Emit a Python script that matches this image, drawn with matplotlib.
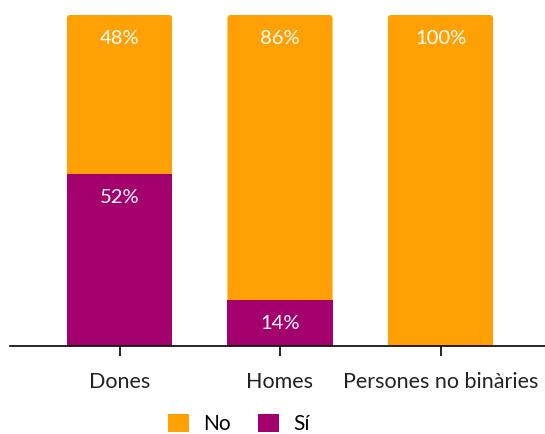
import matplotlib
matplotlib.use("Agg")
import matplotlib.pyplot as plt
from matplotlib.patches import FancyBboxPatch, Patch

plt.rcParams['font.family'] = ['Lato', 'DejaVu Sans']

categories = ["Dones", "Homes", "Persones no binàries"]
si_values = [52, 14, 0]
no_values = [48, 86, 100]
si_labels = ["52%", "14%", ""]
no_labels = ["48%", "86%", "100%"]

color_no = "#FFA005"
color_si = "#A3006E"

W, H, DPI = 545, 434, 100
fig = plt.figure(figsize=(W / DPI, H / DPI), dpi=DPI)
ax = fig.add_axes([10 / W, 1 - 346 / H, 535 / W, 331 / H])

x = list(range(len(categories)))
bar_w = 0.655

# top (No) segments with slightly rounded upper corners
px_x = 160.5  # pixels per x unit
px_y = 3.31   # pixels per y unit
rad = 3 / px_x
for xi, s, n in zip(x, si_values, no_values):
    if n <= 0:
        continue
    box = FancyBboxPatch((xi - bar_w / 2 + rad, s - 5), bar_w - 2 * rad, n + 5 - rad * (px_x / px_y),
                         boxstyle=f"round,pad={rad}", mutation_aspect=px_x / px_y,
                         facecolor=color_no, edgecolor="none", zorder=2)
    ax.add_patch(box)

si_bars = ax.bar(x, si_values, width=bar_w, color=color_si, zorder=3, linewidth=0)

for xi, s, n, sl, nl in zip(x, si_values, no_values, si_labels, no_labels):
    if nl:
        ax.annotate(nl, (xi, s + n), xytext=(0, -24), textcoords="offset pixels",
                    ha="center", va="center", color="white", fontsize=14.5, zorder=5)
    if sl:
        ax.annotate(sl, (xi, s), xytext=(0, -24), textcoords="offset pixels",
                    ha="center", va="center", color="white", fontsize=14.5, zorder=5)

ax.set_xlim((10 - 119.5) / px_x, (545 - 119.5) / px_x)
ax.set_ylim(0, 100)
ax.set_xticks(x)
ax.set_xticklabels(categories, fontsize=15.5, color="#222222")
ax.set_yticks([])
for sp in ["top", "left", "right"]:
    ax.spines[sp].set_visible(False)
ax.spines["bottom"].set_linewidth(1.2)
ax.spines["bottom"].set_zorder(6)
ax.tick_params(axis="x", direction="inout", length=15, width=1.2, pad=11, color="black")

handles = [Patch(facecolor=color_no, edgecolor="none", label="No"),
           Patch(facecolor=color_si, edgecolor="none", label="Sí")]
fig.legend(handles=handles, loc="center", bbox_to_anchor=(239 / W, 1 - 424 / H),
           ncol=2, frameon=False, fontsize=15, handlelength=1.0, handleheight=1.0,
           columnspacing=1.3, handletextpad=0.7)

fig.savefig("out.png", dpi=DPI)
